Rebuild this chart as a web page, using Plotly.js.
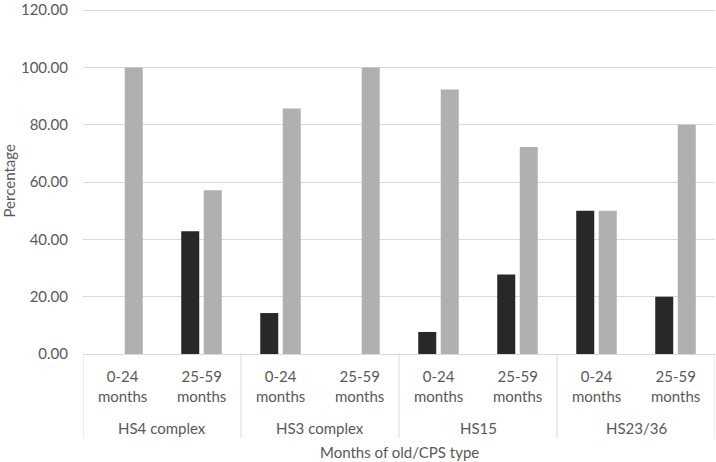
<!DOCTYPE html>
<html>
<head>
<meta charset="utf-8">
<script src="https://cdn.plot.ly/plotly-3.0.1.min.js"></script>
<style>html,body{margin:0;padding:0;background:#fff;}#chart{width:716px;height:462px;}</style>
</head>
<body>
<div id="chart"></div>
<script>
const groupNames = ["HS4 complex","HS3 complex","HS15","HS23/36"];
const groups = ["HS4 complex","HS4 complex","HS3 complex","HS3 complex","HS15","HS15","HS23/36","HS23/36"];
const subcats = ["0-24<br>months","25-59<br>months","0-24<br>months","25-59<br>months","0-24<br>months","25-59<br>months","0-24<br>months","25-59<br>months"];
const seriesDark = [0, 42.86, 14.29, 0, 7.69, 27.78, 50, 20];
const seriesLight = [100, 57.14, 85.71, 100, 92.31, 72.22, 50, 80];
const yTicks = [0,20,40,60,80,100,120];

const keys = groups.map((g,i)=> g + "|" + subcats[i]);
const font = {family: "Lato, 'Open Sans', sans-serif", size: 15, color: "#595959"};
const traces = [
  {type:"bar", x:keys, y:seriesDark, marker:{color:"#282828"}, name:"A", hoverinfo:"skip"},
  {type:"bar", x:keys, y:seriesLight, marker:{color:"#b0b0b0"}, name:"B", hoverinfo:"skip"}
];
const topM = 9, botM = 108;
const plotH = 462 - topM - botM;
const py = px => -(px)/plotH; // px below the x axis -> paper
const annotations = [];
keys.forEach((k,i)=>{
  annotations.push({x:k, xref:"x", y:py(32), yref:"paper", text:subcats[i], showarrow:false,
    xanchor:"center", yanchor:"middle", font:font, align:"center"});
});
const shapes = [];
groupNames.forEach((g,gi)=>{
  const idx = groups.map((v,i)=>v===g?i:-1).filter(i=>i>=0);
  const mid = (idx[0]+idx[idx.length-1])/2;
  annotations.push({x:mid, xref:"x", y:py(74), yref:"paper", text:g, showarrow:false,
    xanchor:"center", yanchor:"middle", font:font});
  shapes.push({type:"line", xref:"x", yref:"paper", x0:idx[0]-0.5, x1:idx[0]-0.5, y0:0, y1:py(84),
    line:{color:"#d9d9d9", width:1}});
  if (gi===groupNames.length-1) {
    const e = idx[idx.length-1]+0.5;
    shapes.push({type:"line", xref:"x", yref:"paper", x0:e, x1:e, y0:0, y1:py(84),
      line:{color:"#d9d9d9", width:1}});
  }
});
annotations.push({x:0.5, xref:"paper", y:py(98), yref:"paper", text:"Months of old/CPS type",
  showarrow:false, xanchor:"center", yanchor:"middle", font:font});
annotations.push({x:-75/632, xref:"paper", y:0.5, yref:"paper", text:"Percentage", textangle:-90,
  showarrow:false, xanchor:"center", yanchor:"middle", font:font});

const layout = {
  width:716, height:462,
  margin:{l:83, r:1, t:topM, b:botM},
  paper_bgcolor:"#fff", plot_bgcolor:"#fff",
  showlegend:false,
  barmode:"group", bargap:0.43, bargroupgap:0.2,
  font: font,
  yaxis:{range:[0,120.4], tickvals:yTicks, ticktext:yTicks.map(v=>v.toFixed(2)),
    showgrid:true, gridcolor:"#d9d9d9", gridwidth:1, zeroline:false, showline:false,
    ticks:"", ticklen:0, tickfont:font, ticklabelstandoff:14, ticklabeloverflow:"allow"},
  xaxis:{type:"category", showline:true, linecolor:"#d9d9d9", linewidth:1,
    showticklabels:false, ticks:"", showgrid:false, range:[-0.5, keys.length-0.5]},
  annotations: annotations,
  shapes: shapes
};
Plotly.newPlot("chart", traces, layout, {displayModeBar:false, staticPlot:true});
</script>
</body>
</html>
